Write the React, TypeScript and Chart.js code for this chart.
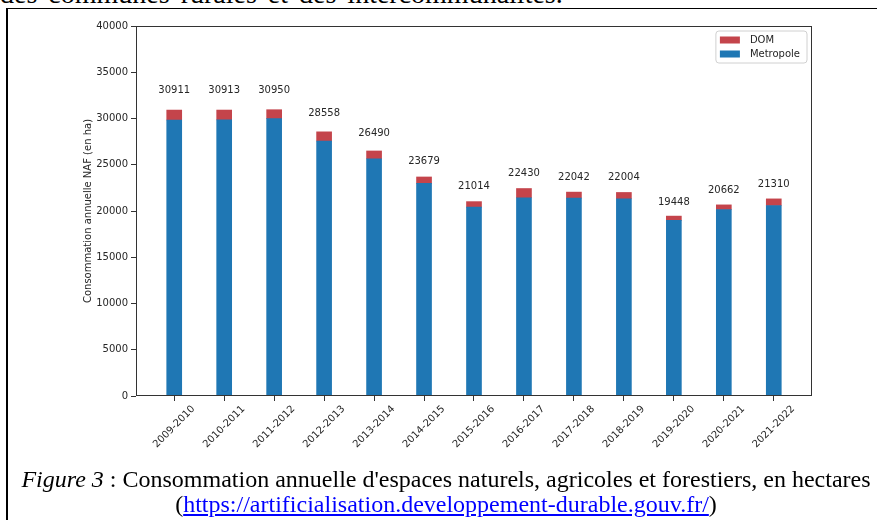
import React, { useEffect, useRef } from "react";
import { Chart, registerables } from "chart.js";

Chart.register(...registerables);

const categories = [
  "2009-2010", "2010-2011", "2011-2012", "2012-2013", "2013-2014", "2014-2015", "2015-2016",
  "2016-2017", "2017-2018", "2018-2019", "2019-2020", "2020-2021", "2021-2022",
];
const totals = [30911, 30913, 30950, 28558, 26490, 23679, 21014, 22430, 22042, 22004, 19448, 20662, 21310];
const metropole = [29831, 29853, 29980, 27558, 25640, 22979, 20414, 21430, 21392, 21324, 18978, 20152, 20590];
const dom = [1080, 1060, 970, 1000, 850, 700, 600, 1000, 650, 680, 470, 510, 720];
const seriesNames = ["Metropole", "DOM"];
const seriesColors = ["#1f77b4", "#c4444b"];
const yTitle = "Consommation annuelle NAF (en ha)";
const yMin = 0;
const yMax = 40000;
const yStep = 5000;

const FONT_FAMILY = "'DejaVu Sans', sans-serif";
const FONT = `10px ${FONT_FAMILY}`;
const TEXT = "#262626";
const AXIS = "#333333";

const overlay = {
  id: "overlay",
  afterDatasetsDraw(chart: any) {
    const { ctx, chartArea: a, scales } = chart;
    const xs = scales.x;
    const ys = scales.y;
    ctx.save();
    // spines
    ctx.strokeStyle = AXIS;
    ctx.lineWidth = 1;
    ctx.strokeRect(
      Math.round(a.left) + 0.5,
      Math.round(a.top) + 0.5,
      Math.round(a.right - a.left) - 1,
      Math.round(a.bottom - a.top) - 1
    );
    // value labels
    ctx.font = FONT;
    ctx.fillStyle = TEXT;
    ctx.textAlign = "center";
    ctx.textBaseline = "bottom";
    totals.forEach((t, i) => {
      ctx.fillText(String(t), xs.getPixelForValue(i), ys.getPixelForValue(t * 1.05));
    });
    // x tick labels, rotated 45°, centered on tick
    const y0 = a.bottom + 8;
    categories.forEach((c, i) => {
      const w = ctx.measureText(c).width;
      const h = 10;
      const half = ((w + h) * Math.SQRT1_2) / 2;
      ctx.save();
      ctx.translate(xs.getPixelForValue(i), y0 + half);
      ctx.rotate(-Math.PI / 4);
      ctx.textAlign = "center";
      ctx.textBaseline = "middle";
      ctx.fillText(c, 0, 0);
      ctx.restore();
    });
    // y title
    ctx.save();
    ctx.translate(88, (a.top + a.bottom) / 2);
    ctx.rotate(-Math.PI / 2);
    ctx.textAlign = "center";
    ctx.textBaseline = "middle";
    ctx.fillText(yTitle, 0, 0);
    ctx.restore();
    // legend
    const names = [seriesNames[1], seriesNames[0]];
    const cols = [chart.data.datasets[1].backgroundColor, chart.data.datasets[0].backgroundColor];
    let tw = 0;
    names.forEach((n) => (tw = Math.max(tw, ctx.measureText(n).width)));
    const fr = a.right - 5;
    const fw = 34 + tw + 7;
    const fl = fr - fw;
    const ft = a.top + 5;
    const fh = 32;
    ctx.beginPath();
    const r = 3;
    ctx.moveTo(fl + r, ft);
    ctx.lineTo(fr - r, ft);
    ctx.quadraticCurveTo(fr, ft, fr, ft + r);
    ctx.lineTo(fr, ft + fh - r);
    ctx.quadraticCurveTo(fr, ft + fh, fr - r, ft + fh);
    ctx.lineTo(fl + r, ft + fh);
    ctx.quadraticCurveTo(fl, ft + fh, fl, ft + fh - r);
    ctx.lineTo(fl, ft + r);
    ctx.quadraticCurveTo(fl, ft, fl + r, ft);
    ctx.closePath();
    ctx.fillStyle = "rgba(255,255,255,0.8)";
    ctx.fill();
    ctx.strokeStyle = "#d0d0d0";
    ctx.stroke();
    names.forEach((n, k) => {
      const cy = ft + 9 + k * 14;
      ctx.fillStyle = cols[k];
      ctx.fillRect(fl + 4, cy - 3.5, 20, 7);
      ctx.fillStyle = TEXT;
      ctx.textAlign = "left";
      ctx.textBaseline = "middle";
      ctx.fillText(n, fl + 34, cy + 0.5);
    });
    ctx.restore();
  },
};

export default function App() {
  const ref = useRef<HTMLCanvasElement | null>(null);

  useEffect(() => {
    if (!ref.current) return;
    const chart = new Chart(ref.current, {
      type: "bar",
      data: {
        datasets: [
          {
            label: seriesNames[0],
            data: metropole.map((v, i) => ({ x: i, y: v })),
            backgroundColor: seriesColors[0],
            borderWidth: 0,
            barThickness: 15,
          },
          {
            label: seriesNames[1],
            data: dom.map((v, i) => ({ x: i, y: v })),
            backgroundColor: seriesColors[1],
            borderWidth: 0,
            barThickness: 15,
          },
        ],
      },
      options: {
        responsive: false,
        animation: false,
        devicePixelRatio: 1,
        layout: { padding: { left: 0, top: 26, right: 65, bottom: 0 } },
        plugins: { legend: { display: false }, tooltip: { enabled: false } },
        scales: {
          x: {
            type: "linear",
            stacked: true,
            offset: false,
            min: -0.765,
            max: 12.765,
            afterBuildTicks: (scale: any) => {
              scale.ticks = categories.map((_, i) => ({ value: i }));
            },
            afterFit: (scale: any) => {
              scale.height = 124;
            },
            ticks: { autoSkip: false, callback: () => "", maxRotation: 0 },
            grid: {
              display: true,
              offset: false,
              drawOnChartArea: false,
              drawTicks: true,
              tickLength: 5,
              color: AXIS,
            },
            border: { display: false },
          },
          y: {
            stacked: true,
            min: yMin,
            max: yMax,
            afterFit: (scale: any) => {
              scale.width = 136;
            },
            ticks: {
              stepSize: yStep,
              color: TEXT,
              padding: 3,
              font: { family: FONT_FAMILY, size: 10 },
              callback: (v: any) => String(v),
            },
            grid: { display: true, drawOnChartArea: false, drawTicks: true, tickLength: 5, color: AXIS },
            border: { display: false },
          },
        },
      } as any,
      plugins: [overlay],
    });
    return () => chart.destroy();
  }, []);

  return (
    <div
      style={{
        position: "fixed",
        left: 0,
        top: 0,
        width: 877,
        height: 520,
        overflow: "hidden",
        background: "#fff",
      }}
    >
      <div
        style={{
          position: "absolute",
          left: 0,
          top: -20,
          font: "28px 'Liberation Serif', serif",
          lineHeight: "28px",
          whiteSpace: "nowrap",
          color: "#000",
          wordSpacing: "4px",
        }}
      >
        des communes rurales et des intercommunalités.
      </div>
      <div
        style={{
          position: "absolute",
          left: 6,
          top: 8,
          width: 900,
          height: 600,
          borderTop: "1px solid #000",
          borderLeft: "2px solid #000",
        }}
      />
      <canvas
        ref={ref}
        width={877}
        height={520}
        style={{ position: "absolute", left: 0, top: 0, width: 877, height: 520 }}
      />
      <div
        style={{
          position: "absolute",
          left: 0,
          top: 467,
          width: 892,
          textAlign: "center",
          font: "24px 'Liberation Serif', serif",
          lineHeight: "25px",
          whiteSpace: "nowrap",
          color: "#000",
        }}
      >
        <i>Figure 3</i> : Consommation annuelle d'espaces naturels, agricoles et forestiers, en hectares
        <br />(
        <a href="https://artificialisation.developpement-durable.gouv.fr/" style={{ color: "#0000ff" }}>
          https://artificialisation.developpement-durable.gouv.fr/
        </a>
        )
      </div>
    </div>
  );
}
